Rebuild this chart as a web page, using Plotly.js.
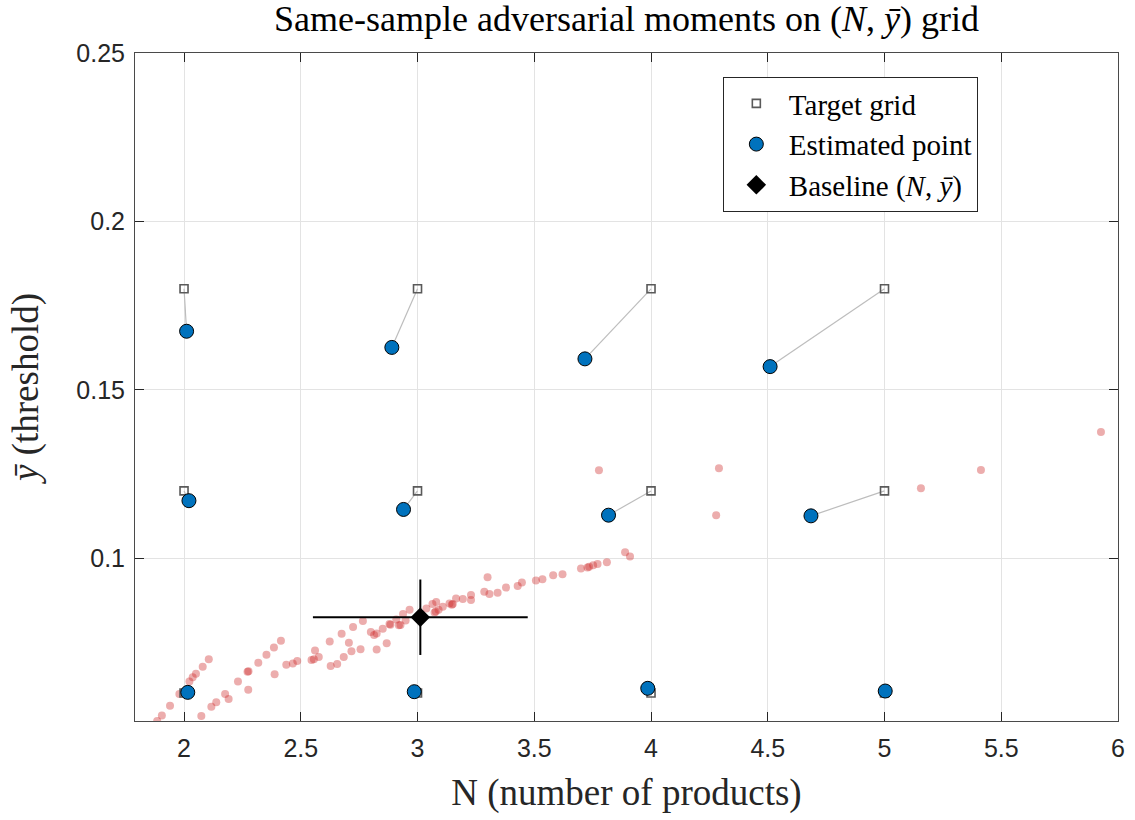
<!DOCTYPE html>
<html>
<head>
<meta charset="utf-8">
<script src="https://cdn.plot.ly/plotly-3.0.1.min.js"></script>
<style>html,body{margin:0;padding:0;background:#fff;}#chart{width:1135px;height:820px;}</style>
</head>
<body>
<div id="chart"></div>
<script>
// Target grid (N, ybar)
const targetN = [2, 3, 4, 5, 2, 3, 4, 5, 2, 3, 4, 5];
const targetY = [0.18, 0.18, 0.18, 0.18, 0.12, 0.12, 0.12, 0.12, 0.06, 0.06, 0.06, 0.06];
// Estimated points
const estN = [2.011, 2.890, 3.717, 4.510, 2.021, 2.940, 3.818, 4.685, 2.016, 2.986, 3.986, 5.003];
const estY = [0.1674, 0.1626, 0.1592, 0.1569, 0.1171, 0.1145, 0.1128, 0.1126, 0.0602, 0.0604, 0.0614, 0.0606];
// Baseline with error bars
const baseN = [3.012];
const baseY = [0.0825];
const baseErrN = [0.46];
const baseErrY = [0.0112];
// Simulated (bootstrap) cloud
const simN = [1.885, 1.905, 1.940, 1.980, 2.023, 2.037, 2.051, 2.080, 2.106,
  2.074, 2.117, 2.138, 2.176, 2.191, 2.231, 2.276, 2.272, 2.275, 2.318, 2.353, 2.385, 2.415, 2.388, 2.438, 2.466, 2.485,
  2.546, 2.556, 2.561, 2.577, 2.624, 2.628, 2.656, 2.675, 2.684, 2.706, 2.717, 2.724, 2.756, 2.766, 2.800, 2.814,
  2.825, 2.825, 2.851, 2.868, 2.880, 2.884, 2.909, 2.920, 2.927, 2.938, 2.949, 2.966,
  3.038, 3.064, 3.080, 3.073, 3.078, 3.090, 3.108, 3.137, 3.151, 3.147, 3.165, 3.194, 3.229, 3.229, 3.286, 3.300,
  3.308, 3.343, 3.379, 3.429, 3.447, 3.507, 3.535, 3.581, 3.621, 3.700, 3.728, 3.735, 3.752, 3.771, 3.811, 3.889, 3.910,
  3.777, 4.291, 4.279, 5.156, 5.413, 5.927];
const simY = [0.0517, 0.0533, 0.0562, 0.0597, 0.0634, 0.0647, 0.0657, 0.0678, 0.0700,
  0.0532, 0.0559, 0.0573, 0.0597, 0.0582, 0.0634, 0.0665, 0.0663, 0.0610, 0.0690, 0.0714, 0.0735, 0.0755, 0.0656, 0.0684, 0.0688, 0.0695,
  0.0698, 0.0700, 0.0726, 0.0707, 0.0753, 0.0680, 0.0686, 0.0776, 0.0707, 0.0749, 0.0724, 0.0796, 0.0730, 0.0814, 0.0781, 0.0772,
  0.0777, 0.0729, 0.0791, 0.0748, 0.0805, 0.0803, 0.0818, 0.0801, 0.0802, 0.0835, 0.0815, 0.0847,
  0.0851, 0.0864, 0.0870, 0.0839, 0.0842, 0.0847, 0.0856, 0.0866, 0.0864, 0.0862, 0.0881, 0.0879, 0.0891, 0.0876, 0.0901, 0.0944,
  0.0894, 0.0898, 0.0913, 0.0918, 0.0928, 0.0934, 0.0938, 0.0950, 0.0953, 0.0970, 0.0973, 0.0975, 0.0979, 0.0983, 0.0988, 0.1018, 0.1005,
  0.1261, 0.1267, 0.1128, 0.1208, 0.1262, 0.1375];
const xTicks = [2, 2.5, 3, 3.5, 4, 4.5, 5, 5.5, 6];
const yTicks = [0.1, 0.15, 0.2, 0.25];

// connector segments target -> estimate
const segX = [], segY = [];
for (let i = 0; i < targetN.length; i++) {
  segX.push(targetN[i], estN[i], null);
  segY.push(targetY[i], estY[i], null);
}

const serif = 'Liberation Serif, Times New Roman, serif';
const sans = 'Liberation Sans, Arial, Helvetica, sans-serif';

const traces = [
  {x: simN, y: simY, type: 'scatter', mode: 'markers', showlegend: false, hoverinfo: 'skip',
   marker: {size: 8, color: 'rgba(205,40,40,0.38)', line: {width: 0}}},
  {x: segX, y: segY, type: 'scatter', mode: 'lines', showlegend: false, hoverinfo: 'skip',
   line: {color: '#bdbdbd', width: 1.2}},
  {x: targetN, y: targetY, type: 'scatter', mode: 'markers', name: 'Target grid',
   marker: {symbol: 'square-open', size: 8, color: '#5a5a5a', line: {width: 1.6, color: '#5a5a5a'}}},
  {x: estN, y: estY, type: 'scatter', mode: 'markers', name: 'Estimated point',
   marker: {symbol: 'circle', size: 14, color: '#0072BD', line: {width: 1, color: '#000'}}},
  {x: baseN, y: baseY, type: 'scatter', mode: 'markers', name: 'Baseline (<i>N</i>, <i>ȳ</i>)',
   marker: {symbol: 'diamond', size: 15, color: '#000'},
   error_x: {type: 'data', array: baseErrN, color: '#000', thickness: 2, width: 0},
   error_y: {type: 'data', array: baseErrY, color: '#000', thickness: 2, width: 0}}
];

const axisCommon = {
  showgrid: true, gridcolor: '#e3e3e3', gridwidth: 1,
  zeroline: false, showline: true, linecolor: '#4a4a4a', linewidth: 1, mirror: 'ticks',
  ticks: 'inside', ticklen: 9, tickwidth: 1, tickcolor: '#262626',
  tickfont: {family: sans, size: 25, color: '#262626'}
};

const layout = {
  width: 1135, height: 820,
  margin: {l: 135, r: 17, t: 53, b: 99},
  paper_bgcolor: '#fff', plot_bgcolor: '#fff',
  title: {text: 'Same-sample adversarial moments on (<i>N</i>, <i>ȳ</i>) grid',
          font: {family: serif, size: 36, color: '#000'},
          xref: 'paper', x: 0.5, xanchor: 'center', yref: 'container', y: 1, yanchor: 'top',
          pad: {t: 6}},
  xaxis: Object.assign({}, axisCommon, {
    range: [1.79, 6], tickvals: xTicks, ticklabelstandoff: 5,
    title: {text: 'N (number of products)', font: {family: serif, size: 37, color: '#262626'}, standoff: 18}
  }),
  yaxis: Object.assign({}, axisCommon, {
    range: [0.0517, 0.25], tickvals: yTicks, ticklabelstandoff: 4,
    title: {text: '<i>ȳ</i> (threshold)', font: {family: serif, size: 37, color: '#262626'}, standoff: 26}
  }),
  legend: {x: 0.598, y: 0.964, xanchor: 'left', yanchor: 'top',
           bgcolor: '#fff', bordercolor: '#262626', borderwidth: 1, itemwidth: 55,
           font: {family: serif, size: 29, color: '#000'}, tracegroupgap: 0},
  showlegend: true
};

Plotly.newPlot('chart', traces, layout, {displayModeBar: false, staticPlot: true});
</script>
</body>
</html>
